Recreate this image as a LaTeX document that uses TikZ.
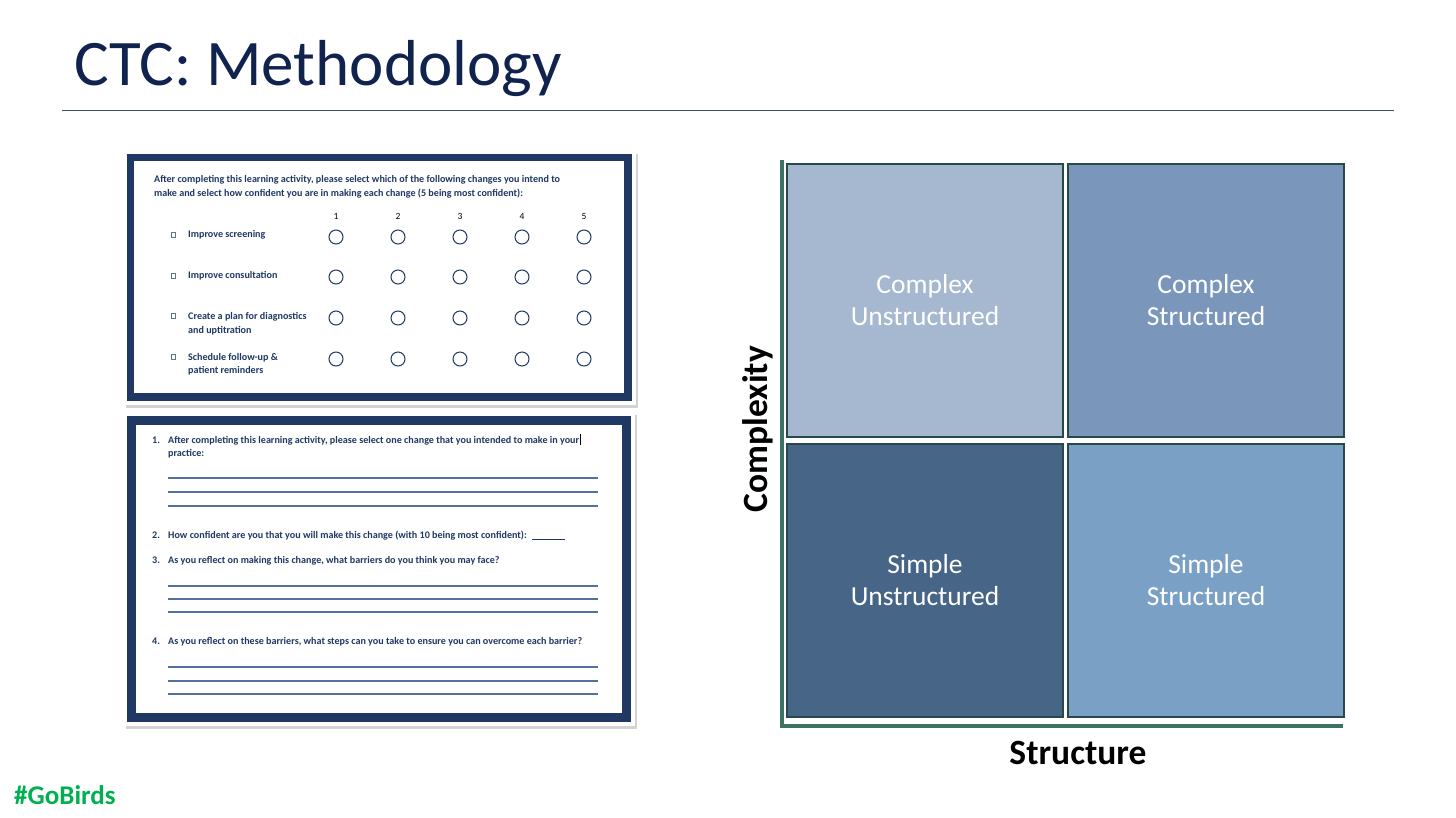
\documentclass[tikz,border=0pt]{standalone}
\usepackage{fontspec}
\setmainfont{Carlito}
\usepackage{tikz}
\usetikzlibrary{positioning,shadows}

\definecolor{navy}{HTML}{1F3864}
\definecolor{titleblue}{HTML}{10224E}
\definecolor{rulegray}{HTML}{3D4E6B}
\definecolor{formline}{HTML}{54709E}
\definecolor{axisgreen}{HTML}{3B7265}
\definecolor{cellborder}{HTML}{27494A}
\definecolor{cellCU}{HTML}{A5B8D0}
\definecolor{cellCS}{HTML}{7A96BA}
\definecolor{cellSU}{HTML}{476587}
\definecolor{cellSS}{HTML}{7BA0C5}
\definecolor{birdgreen}{HTML}{00B050}

\tikzset{
  formtxt/.style={anchor=base west,inner sep=0,text=navy,font=\fontsize{10.1}{12}\selectfont\bfseries},
  formnum/.style={anchor=base,inner sep=0,text=black,font=\fontsize{9.5}{11}\selectfont},
  cell/.style={draw=cellborder,line width=2pt,minimum width=276pt,minimum height=273pt,
    text=white,align=center,font=\fontsize{27.5}{32}\selectfont},
  axislabel/.style={inner sep=0,font=\fontsize{35.5}{40}\selectfont\bfseries},
}

\begin{document}
\begin{tikzpicture}[x=1pt,y=-1pt]
  \useasboundingbox (0,0) rectangle (1456,817);
  % title
  \node[anchor=base west,inner sep=0,text=titleblue,font=\fontsize{65}{70}\selectfont] (title) at (74,85) {CTC: Methodology};
  \draw[rulegray,line width=1pt] (62,110) -- (1394,110);
  \node[anchor=base west,inner sep=0,text=birdgreen,font=\fontsize{27}{30}\selectfont\bfseries] (gobirds) at (14,804) {\#GoBirds};
  % form A: intended changes
  \fill[white,drop shadow={opacity=0.35,shadow xshift=2pt,shadow yshift=-3pt}] (124,151) rectangle (636,405);
  \fill[navy] (127,154) rectangle (632,401);
  \fill[white] (134,161) rectangle (624,393);
  \node[formtxt] (qa1) at (154,182) {After completing this learning activity, please select which of the following changes you intend to};
  \node[formtxt] (qa2) at (154,196) {make and select how confident you are in making each change (5 being most confident):};
  \foreach \x [count=\i] in {336,398,460,522,584} {
    \node[formnum] (n\i) at (\x,219) {\i};
    \foreach \y in {237,277,318,359} \draw[navy,line width=1pt] (\x,\y) circle (7pt);
  }
  \foreach \y in {235,276,316,357} \draw[navy!70,line width=0.5pt] (171.5,\y-2.5) rectangle (175,\y+2.5);
  \node[formtxt] (ra) at (188,237) {Improve screening};
  \node[formtxt] (rb) at (188,278) {Improve consultation};
  \node[formtxt] (rc) at (188,319) {Create a plan for diagnostics};
  \node[formtxt] (rc2) at (188,333) {and uptitration};
  \node[formtxt] (rd) at (188,360) {Schedule follow-up \&};
  \node[formtxt] (rd2) at (188,373) {patient reminders};
  % form B: one change
  \fill[white,drop shadow={opacity=0.35,shadow xshift=2pt,shadow yshift=-3pt}] (124,412) rectangle (635,726);
  \fill[navy] (127,416) rectangle (631,722);
  \fill[white] (136,425) rectangle (622,713);
  \node[formtxt] (k1) at (152,443) {1.};
  \node[formtxt] (qb1) at (168,443) {After completing this learning activity, please select one change that you intended to make in your};
  \draw[black,line width=0.5pt] (qb1.base east) ++(1,2) -- ++(0,-11);
  \node[formtxt] (qb1b) at (168,456) {practice:};
  \node[formtxt] (k2) at (152,538) {2.};
  \node[formtxt] (qb2) at (168,538) {How confident are you that you will make this change (with 10 being most confident):};
  \draw[navy,line width=0.6pt] (532,539) -- (565,539);
  \node[formtxt] (k3) at (152,563) {3.};
  \node[formtxt] (qb3) at (168,563) {As you reflect on making this change, what barriers do you think you may face?};
  \node[formtxt] (k4) at (152,644) {4.};
  \node[formtxt] (qb4) at (168,644) {As you reflect on these barriers, what steps can you take to ensure you can overcome each barrier?};
  \foreach \y in {478,492,506,586,599,612,667,681,694} \draw[formline,line width=1.2pt] (168,\y) -- (598,\y);
  % matrix
  \node[cell,fill=cellCU] (cu) at (925,300.5) {Complex\\Unstructured};
  \node[cell,fill=cellCS,right=3pt of cu] (cs) {Complex\\Structured};
  \node[cell,fill=cellSU,below=5pt of cu] (su) {Simple\\Unstructured};
  \node[cell,fill=cellSS,right=3pt of su] (ss) {Simple\\Structured};
  % axes
  \coordinate (ytop) at (782,160);
  \coordinate (origin) at (782,726);
  \coordinate (xend) at (1343,726);
  \draw[axisgreen,line width=3.5pt] (ytop) -- (origin) -- (xend);
  \node[axislabel,rotate=90] (ylab) at (758,429) {Complexity};
  \node[axislabel,anchor=base] (xlab) at (1078,764) {Structure};
\end{tikzpicture}
\end{document}
